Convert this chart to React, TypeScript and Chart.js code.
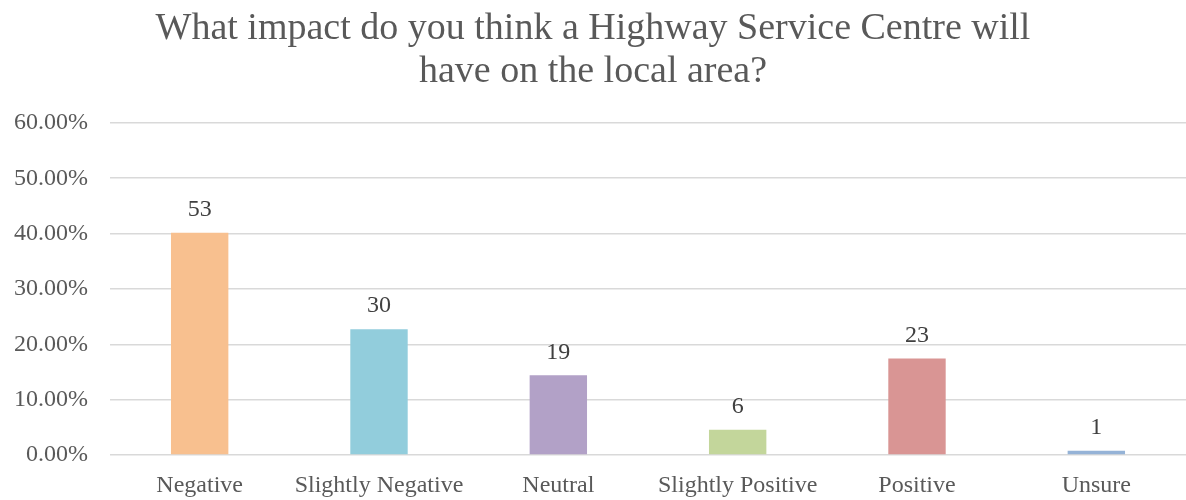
import React, { useEffect, useRef } from "react";
import { Chart, registerables } from "chart.js";

Chart.register(...registerables);

const categories = ["Negative", "Slightly Negative", "Neutral", "Slightly Positive", "Positive", "Unsure"];
const counts = [53, 30, 19, 6, 23, 1];
const shares = [0.4015, 0.2273, 0.1439, 0.0455, 0.1742, 0.0076];
const barColors = ["#F8C08F", "#92CDDC", "#B2A1C7", "#C3D69B", "#D99594", "#95B3D7"];
const titleLines = ["What impact do you think a Highway Service Centre will", "have on the local area?"];

const FONT = "'Liberation Serif', 'DejaVu Serif', serif";

const countLabels = {
  id: "countLabels",
  afterDatasetsDraw(chart: any) {
    const ctx = chart.ctx;
    const meta = chart.getDatasetMeta(0);
    ctx.save();
    ctx.font = `24px ${FONT}`;
    ctx.fillStyle = "#404040";
    ctx.textAlign = "center";
    ctx.textBaseline = "bottom";
    meta.data.forEach((bar: any, i: number) => {
      ctx.fillText(String(counts[i]), bar.x, bar.y - 11);
    });
    ctx.restore();
  },
};

export default function App() {
  const ref = useRef<HTMLCanvasElement>(null);
  useEffect(() => {
    if (!ref.current) return;
    const chart = new Chart(ref.current, {
      type: "bar",
      data: {
        labels: categories,
        datasets: [
          {
            data: shares,
            backgroundColor: barColors,
            categoryPercentage: 1,
            barPercentage: 0.32,
          },
        ],
      },
      options: {
        animation: false,
        responsive: false,
        maintainAspectRatio: false,
        layout: { padding: { top: 8, right: 0, bottom: 0, left: 0 } },
        plugins: {
          legend: { display: false },
          tooltip: { enabled: false },
          title: {
            display: true,
            text: titleLines,
            color: "#595959",
            font: { family: FONT, size: 38, weight: "normal", lineHeight: 1.13 },
            padding: { top: 0, bottom: 29 },
          },
        },
        scales: {
          x: {
            grid: { display: false, drawTicks: false },
            border: { display: false },
            ticks: {
              color: "#595959",
              font: { family: FONT, size: 24 },
              padding: 16,
              maxRotation: 0,
              autoSkip: false,
            },
            afterFit: (scale: any) => {
              scale.height = 45;
            },
          },
          y: {
            min: 0,
            max: 0.6,
            grid: { color: "#D9D9D9", lineWidth: 1.5, drawTicks: false },
            border: { display: false },
            ticks: {
              stepSize: 0.1,
              color: "#595959",
              font: { family: FONT, size: 24 },
              padding: 22,
              callback: (v: any) => (Number(v) * 100).toFixed(2) + "%",
            },
            afterFit: (scale: any) => {
              scale.width = 110;
            },
          },
        },
      },
      plugins: [countLabels],
    });
    return () => chart.destroy();
  }, []);
  return (
    <div style={{ position: "absolute", left: 0, top: 0, width: 1186, height: 500, background: "#fff" }}>
      <canvas ref={ref} width={1186} height={500} />
    </div>
  );
}
